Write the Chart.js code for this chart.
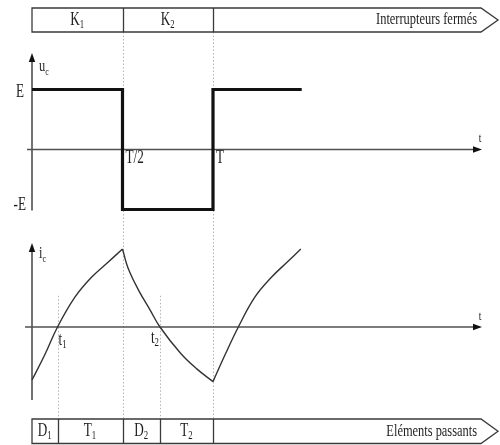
<!DOCTYPE html>
<html>
<head>
<meta charset="utf-8">
<script src="https://cdn.jsdelivr.net/npm/chart.js@4/dist/chart.umd.min.js"></script>
<style>
  html, body { margin: 0; padding: 0; background: #fff; }
  #wrap { width: 500px; height: 445px; }
</style>
</head>
<body>
<div id="wrap"><canvas id="chrono"></canvas></div>
<script>
// time is counted in periods T
const uTimes = [0, 0.5, 0.5, 1, 1, 1.49];
const uValues = [1, 1, -1, -1, 1, 1];            // in units of E

const iTimes = [0, 0.072, 0.141, 0.238, 0.330, 0.420, 0.5,
                0.530, 0.587, 0.652, 0.707, 0.822, 0.912, 1,
                1.066, 1.140, 1.232, 1.324, 1.409, 1.485];
const iValues = [-0.68, -0.35, 0, 0.385, 0.64, 0.83, 1,
                 0.76, 0.48, 0.22, 0, -0.34, -0.54, -0.70,
                 -0.36, 0, 0.385, 0.64, 0.83, 1];

const tickTimes = [0.5, 1];
const tickLabels = ['T/2', 'T'];
const uLevels = [1, -1];
const uLevelLabels = ['E', '-E'];

const t1 = 0.141;
const t2 = 0.707;
const switchEdges = [0, 0.5, 1];
const switchLabels = ['K_1', 'K_2'];
const switchTitle = 'Interrupteurs fermés';
const conductEdges = [0, t1, 0.5, t2, 1];
const conductLabels = ['D_1', 'T_1', 'D_2', 'T_2'];
const conductTitle = 'Eléments passants';

// page geometry
const W = 500, H = 445;
const X0 = 32, XT = 213;          // pixel of t = 0 and t = T
const ZU = 149.5, SU = 60;        // u_c zero line and pixels per E
const ZI = 327, SI = 78;          // i_c zero line and pixels per unit
const SQUASH = 0.73;              // narrow serif lettering
const FONT = '"Liberation Serif", "DejaVu Serif", serif';
const INK = '#1e1e1e';
const AXIS = '#505050';

// cut the current into its rising / falling branches so corners stay sharp
function splitAtTurns(xs, ys) {
  const segs = [];
  let cur = [{ x: xs[0], y: ys[0] }];
  for (let k = 1; k < xs.length; k++) {
    cur.push({ x: xs[k], y: ys[k] });
    if (k < xs.length - 1 &&
        Math.sign(ys[k + 1] - ys[k]) !== Math.sign(ys[k] - ys[k - 1])) {
      segs.push(cur);
      cur = [{ x: xs[k], y: ys[k] }];
    }
  }
  segs.push(cur);
  return segs;
}

function label(ctx, str, x, y, size, align) {
  const [main, sub] = str.split('_');
  ctx.save();
  ctx.font = size + 'px ' + FONT;
  const mw = ctx.measureText(main).width;
  const subSize = Math.round(size * 0.66);
  ctx.font = subSize + 'px ' + FONT;
  const sw = sub ? ctx.measureText(sub).width : 0;
  const total = (mw + sw) * SQUASH;
  const left = align === 'center' ? x - total / 2 : align === 'right' ? x - total : x;
  ctx.translate(left, y);
  ctx.scale(SQUASH, 1);
  ctx.fillStyle = INK;
  ctx.textAlign = 'left';
  ctx.textBaseline = 'middle';
  ctx.font = size + 'px ' + FONT;
  ctx.fillText(main, 0, 0);
  if (sub) {
    ctx.font = subSize + 'px ' + FONT;
    ctx.fillText(sub, mw, size * 0.28);
  }
  ctx.restore();
}

function arrow(ctx, x1, y1, x2, y2) {
  const a = Math.atan2(y2 - y1, x2 - x1);
  ctx.beginPath();
  ctx.moveTo(x1, y1);
  ctx.lineTo(x2 - 6 * Math.cos(a), y2 - 6 * Math.sin(a));
  ctx.stroke();
  ctx.beginPath();
  ctx.moveTo(x2, y2);
  ctx.lineTo(x2 - 9 * Math.cos(a) + 3.2 * Math.sin(a), y2 - 9 * Math.sin(a) - 3.2 * Math.cos(a));
  ctx.lineTo(x2 - 9 * Math.cos(a) - 3.2 * Math.sin(a), y2 - 9 * Math.sin(a) + 3.2 * Math.cos(a));
  ctx.closePath();
  ctx.fill();
}

function band(ctx, px, top, bottom, edges, names, title) {
  const left = px(edges[0]);
  const mid = (top + bottom) / 2;
  ctx.save();
  ctx.strokeStyle = '#3a3a3a';
  ctx.lineWidth = 1.3;
  ctx.fillStyle = '#fff';
  ctx.beginPath();
  ctx.moveTo(left, top);
  ctx.lineTo(481, top);
  ctx.lineTo(498, mid);
  ctx.lineTo(481, bottom);
  ctx.lineTo(left, bottom);
  ctx.closePath();
  ctx.fill();
  ctx.stroke();
  for (let k = 1; k < edges.length; k++) {
    const x = Math.round(px(edges[k])) + 0.5;
    ctx.beginPath();
    ctx.moveTo(x, top);
    ctx.lineTo(x, bottom);
    ctx.stroke();
  }
  ctx.restore();
  names.forEach((n, k) => {
    label(ctx, n, (px(edges[k]) + px(edges[k + 1])) / 2, mid, 18, 'center');
  });
  label(ctx, title, 477, mid, 17, 'right');
}

const schema = {
  id: 'schema',
  beforeDatasetsDraw(chart) {
    const ctx = chart.ctx;
    const px = v => chart.scales.x.getPixelForValue(v);
    const pu = v => chart.scales.yU.getPixelForValue(v);
    const pi = v => chart.scales.yI.getPixelForValue(v);

    // dotted guides at the switching instants
    ctx.save();
    ctx.strokeStyle = '#b4b4b4';
    ctx.lineWidth = 1;
    ctx.setLineDash([1.5, 2]);
    tickTimes.forEach(t => {
      const x = Math.round(px(t)) + 0.5;
      ctx.beginPath();
      ctx.moveTo(x, 32);
      ctx.lineTo(x, 419);
      ctx.stroke();
    });
    [t1, t2].forEach(t => {
      const x = Math.round(px(t)) + 0.5;
      ctx.beginPath();
      ctx.moveTo(x, pi(0.4));
      ctx.lineTo(x, 419);
      ctx.stroke();
    });
    ctx.restore();

    // axes with arrow heads
    ctx.save();
    ctx.strokeStyle = AXIS;
    ctx.fillStyle = '#111';
    ctx.lineWidth = 1.6;
    arrow(ctx, px(0), pu(-1) + 1, px(0), 53);
    arrow(ctx, 27, pu(0), 482, pu(0));
    arrow(ctx, px(0), 400, px(0), 243);
    arrow(ctx, 25, pi(0), 482, pi(0));
    ctx.restore();
  },
  afterDatasetsDraw(chart) {
    const ctx = chart.ctx;
    const px = v => chart.scales.x.getPixelForValue(v);
    const pu = v => chart.scales.yU.getPixelForValue(v);
    const pi = v => chart.scales.yI.getPixelForValue(v);

    label(ctx, 'u_c', 39, 67, 17, 'left');
    label(ctx, 'i_c', 39, 254, 17, 'left');
    label(ctx, uLevelLabels[0], 24, pu(uLevels[0]) + 3, 18, 'right');
    label(ctx, uLevelLabels[1], 26, pu(uLevels[1]) - 4, 18, 'right');
    tickTimes.forEach((t, k) => label(ctx, tickLabels[k], px(t) + 3, pu(0) + 9, 18, 'left'));
    label(ctx, 't', 480, pu(0) - 11, 13, 'center');
    label(ctx, 't', 480, pi(0) - 10, 13, 'center');
    label(ctx, 't_1', px(t1) + 1, pi(0) + 13, 18, 'left');
    label(ctx, 't_2', px(t2) - 1, pi(0) + 11, 18, 'right');

    band(ctx, px, 8, 32, switchEdges, switchLabels, switchTitle);
    band(ctx, px, 419, 443.5, conductEdges, conductLabels, conductTitle);
  }
};

const currentSets = splitAtTurns(iTimes, iValues).map(seg => ({
  data: seg,
  yAxisID: 'yI',
  borderColor: '#333333',
  borderWidth: 1.4,
  pointRadius: 0,
  tension: 0.4
}));

new Chart(document.getElementById('chrono'), {
  type: 'line',
  data: {
    datasets: [{
      data: uTimes.map((t, k) => ({ x: t, y: uValues[k] })),
      yAxisID: 'yU',
      borderColor: '#111111',
      borderWidth: 3.2,
      borderJoinStyle: 'miter',
      pointRadius: 0,
      tension: 0
    }, ...currentSets]
  },
  options: {
    responsive: true,
    maintainAspectRatio: false,
    animation: false,
    layout: { padding: 0 },
    plugins: {
      legend: { display: false },
      tooltip: { enabled: false }
    },
    scales: {
      x: {
        type: 'linear',
        display: false,
        min: -X0 / (XT - X0),
        max: (W - X0) / (XT - X0)
      },
      yU: {
        type: 'linear',
        display: false,
        min: (ZU - H) / SU,
        max: ZU / SU
      },
      yI: {
        type: 'linear',
        display: false,
        min: (ZI - H) / SI,
        max: ZI / SI
      }
    }
  },
  plugins: [schema]
});
</script>
</body>
</html>
